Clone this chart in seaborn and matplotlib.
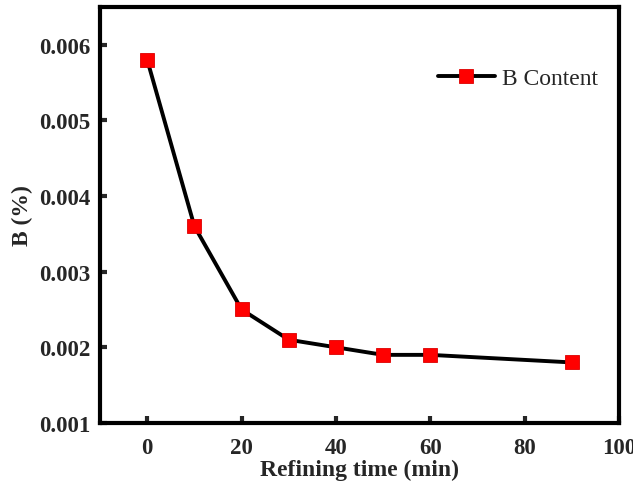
import matplotlib
matplotlib.use("Agg")
import matplotlib.pyplot as plt
import seaborn as sns
import pandas as pd

time_min = [0, 10, 20, 30, 40, 50, 60, 90]
b_content = [0.0058, 0.0036, 0.0025, 0.0021, 0.0020, 0.0019, 0.0019, 0.0018]
x_ticks = [0, 20, 40, 60, 80, 100]
y_ticks = [0.001, 0.002, 0.003, 0.004, 0.005, 0.006]

sns.set_theme(style="white")
plt.rcParams['font.family'] = ['Liberation Serif', 'DejaVu Serif']

df = pd.DataFrame({"t": time_min, "b": b_content})

fig = plt.figure(figsize=(6.33, 4.89), dpi=100)
ax = fig.add_axes([0.158, 0.133, 0.820, 0.851])
sns.lineplot(data=df, x="t", y="b", ax=ax, color="black", linewidth=2.8,
             marker="s", markersize=9.5, markerfacecolor="red",
             markeredgecolor="#dd0000", markeredgewidth=0.6, label="B Content")

ax.set_xlim(-10, 100)
ax.set_ylim(0.001, 0.0065)
ax.set_xticks(x_ticks)
ax.set_yticks(y_ticks)
ax.set_xticklabels([str(v) for v in x_ticks])
ax.set_yticklabels([f"{v:.3f}" for v in y_ticks])
ax.tick_params(direction="in", length=5, width=3, labelsize=16.5, pad=7,
               bottom=True, left=True)
ax.tick_params(axis="x", pad=10)
for lab in ax.get_xticklabels() + ax.get_yticklabels():
    lab.set_fontweight("bold")
for s in ax.spines.values():
    s.set_linewidth(3)
    s.set_color("black")
ax.set_xlabel("Refining time (min)", fontsize=17, fontweight="bold", labelpad=1)
ax.set_ylabel("B (%)", fontsize=17, fontweight="bold", labelpad=4)

leg = ax.legend(loc="upper right", bbox_to_anchor=(1.0, 0.905), frameon=False,
                fontsize=17, handlelength=2.4, handletextpad=0.3)

fig.savefig("out.png", dpi=100)
